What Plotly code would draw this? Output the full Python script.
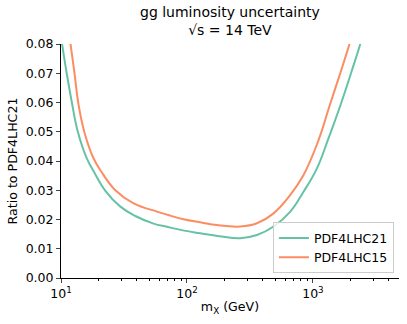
import plotly.graph_objects as go

# mass points (GeV) and ratio values
m_21 = [10.0, 10.2, 11.1, 12.2, 13.6, 16.0, 18.7, 22.5, 29.6, 38.9, 54.3, 69.4, 95, 127.6, 180, 265, 359,
        487, 661, 842, 1076, 1315, 1647, 2004, 2373, 2600]
r_21 = [0.0825, 0.080, 0.070, 0.060, 0.050, 0.0410, 0.0355, 0.0298, 0.0244, 0.0212, 0.0186, 0.0175, 0.0162,
        0.0153, 0.0143, 0.0136, 0.0147, 0.0176, 0.0227, 0.0295, 0.0375, 0.0472, 0.0589, 0.070, 0.080, 0.0865]

m_15 = [11.0, 11.9, 12.8, 13.7, 15.3, 18.0, 20.8, 27.0, 37.7, 57.8, 70, 94, 130, 173, 265, 359, 487, 661,
        842, 1109, 1355, 1647, 1951, 2200]
r_15 = [0.091, 0.080, 0.070, 0.060, 0.050, 0.0412, 0.0365, 0.0300, 0.0255, 0.0227, 0.0216, 0.0201, 0.0190,
        0.0181, 0.0176, 0.0187, 0.0221, 0.0284, 0.0352, 0.0472, 0.0589, 0.070, 0.080, 0.0875]

y_ticks = [0.00, 0.01, 0.02, 0.03, 0.04, 0.05, 0.06, 0.07, 0.08]
x_ticks = [10, 100, 1000]
x_ticktext = ["10<sup>1</sup>", "10<sup>2</sup>", "10<sup>3</sup>"]

FONT = "DejaVu Sans"

fig = go.Figure()
fig.add_trace(go.Scatter(x=m_21, y=r_21, mode="lines", name="PDF4LHC21",
                         line=dict(color="#66c2a5", width=2, shape="spline", smoothing=1.2)))
fig.add_trace(go.Scatter(x=m_15, y=r_15, mode="lines", name="PDF4LHC15",
                         line=dict(color="#fc8d62", width=2, shape="spline", smoothing=1.2)))

# two-line title as an annotation so both lines sit above the plot
fig.add_annotation(text="gg luminosity uncertainty<br>√s = 14 TeV", xref="paper", yref="paper",
                   x=0.5, y=1.018, xanchor="center", yanchor="bottom", showarrow=False,
                   font=dict(size=14))

fig.update_layout(
    width=407, height=324,
    margin=dict(l=61, r=8, t=44, b=46),
    plot_bgcolor="white", paper_bgcolor="white",
    font=dict(family=FONT, size=12.5, color="black"),
    legend=dict(x=0.985, xanchor="right", y=0.02, yanchor="bottom",
                bordercolor="#cccccc", borderwidth=1, bgcolor="rgba(255,255,255,0.8)",
                font=dict(size=12.5)),
)
fig.update_xaxes(type="log", range=[1, 3.683], tickvals=x_ticks, ticktext=x_ticktext,
                 showline=True, linecolor="black", linewidth=1, ticks="outside", ticklen=4,
                 showgrid=False, zeroline=False,
                 minor=dict(ticks="outside", ticklen=2, tickcolor="black", dtick="D1", showgrid=False),
                 title=dict(text="m<sub>X</sub> (GeV)", standoff=2, font=dict(size=12.6)))
fig.update_yaxes(range=[0, 0.08], tickvals=y_ticks, tickformat=".2f",
                 showline=True, linecolor="black", linewidth=1, ticks="outside", ticklen=4,
                 showgrid=False, zeroline=False,
                 title=dict(text="Ratio to PDF4LHC21", standoff=5, font=dict(size=12.6)))

fig.write_html("out.html", config={"displayModeBar": False},
               post_script="document.body.style.margin='0';")
